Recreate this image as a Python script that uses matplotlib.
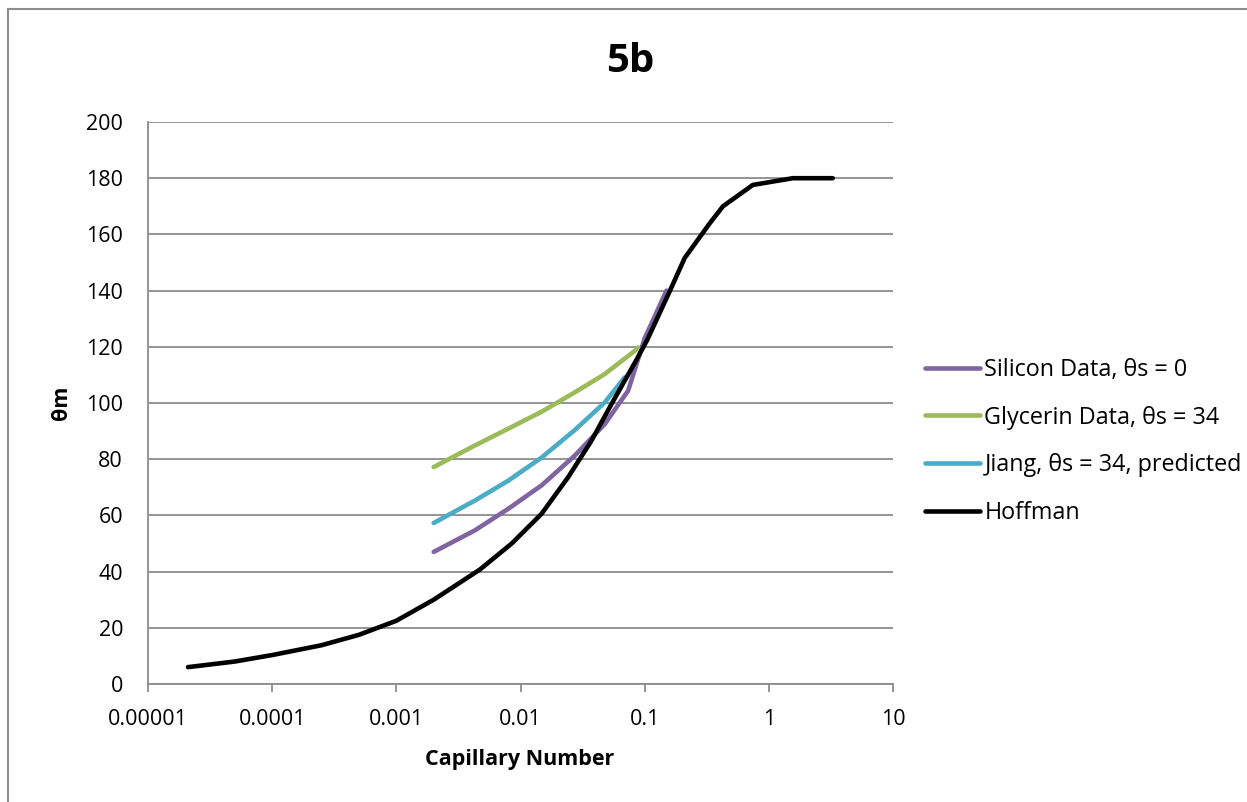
import matplotlib.pyplot as plt
from matplotlib.lines import Line2D

# series
silicon_x = [0.002, 0.0043, 0.008, 0.0148, 0.0274, 0.0477, 0.0736, 0.1, 0.15]
silicon_y = [47.0, 54.7, 62.4, 70.7, 81.3, 92.5, 104.4, 123, 140]

glycerin_x = [0.002, 0.0043, 0.008, 0.0148, 0.0274, 0.0477, 0.0834, 0.0885]
glycerin_y = [77.2, 84.9, 90.9, 96.9, 103.8, 110.3, 118.6, 119.8]

jiang_x = [0.002, 0.0043, 0.008, 0.0148, 0.0274, 0.0477, 0.069]
jiang_y = [57.3, 65.3, 72.4, 80.6, 90.4, 100.2, 109.1]

hoffman_x = [2.1e-5, 5e-5, 1e-4, 2.5e-4, 5e-4, 1e-3, 2e-3, 4.7e-3, 8.5e-3, 1.48e-2,
             2.42e-2, 3.73e-2, 5.4e-2, 0.085, 0.105, 0.16, 0.21, 0.335, 0.427,
             0.743, 1.56, 3.27]
hoffman_y = [6, 8, 10.3, 13.8, 17.5, 22.5, 30, 40.7, 50, 60.6,
             73.6, 86.6, 99.6, 115, 122.5, 140, 151.6, 164, 170,
             177.6, 180, 180]

x_ticks = [1e-5, 1e-4, 1e-3, 1e-2, 1e-1, 1, 10]
x_tick_labels = ["0.00001", "0.0001", "0.001", "0.01", "0.1", "1", "10"]
y_ticks = list(range(0, 201, 20))

plt.rcParams['font.family'] = ['Open Sans', 'DejaVu Sans']

W, H = 1247, 802
fig = plt.figure(figsize=(W / 100, H / 100), dpi=100)
ax = fig.add_axes([148 / W, 1 - 684 / H, (893 - 148) / W, (684 - 122) / H])

lw = 3.3
ax.plot(silicon_x, silicon_y, color="#8064A2", lw=lw, solid_capstyle="round", label="Silicon Data, θs = 0")
ax.plot(glycerin_x, glycerin_y, color="#9BBB59", lw=lw, solid_capstyle="round", label="Glycerin Data, θs = 34")
ax.plot(jiang_x, jiang_y, color="#4BACC6", lw=lw, solid_capstyle="round", label="Jiang, θs = 34, predicted")
ax.plot(hoffman_x, hoffman_y, color="black", lw=lw, solid_capstyle="round", label="Hoffman")

ax.set_xscale("log")
ax.set_xlim(1e-5, 10)
ax.set_ylim(0, 200)
ax.set_xticks(x_ticks)
ax.set_xticklabels(x_tick_labels)
ax.minorticks_off()
ax.set_yticks(y_ticks)

ax.grid(axis="y", color="#8c8c8c", lw=1.3)
ax.set_axisbelow(True)
for s in ["top", "right"]:
    ax.spines[s].set_visible(False)
for s in ["left", "bottom"]:
    ax.spines[s].set_color("#8c8c8c")
    ax.spines[s].set_linewidth(1.3)
ax.tick_params(axis="both", colors="#8c8c8c", labelcolor="black", labelsize=15.5, width=1.3)
ax.tick_params(axis="x", length=6, pad=12)
ax.tick_params(axis="y", length=0, pad=18)

ax.set_xlabel("Capillary Number", fontsize=15.5, fontweight="bold", va="center")
ax.xaxis.set_label_coords((520 - 148) / 745, (684 - 760) / 562)
ax.set_ylabel("θm", fontsize=15.5, fontweight="bold", va="center")
ax.yaxis.set_label_coords((62 - 148) / 745, 0.5)
fig.text(630 / W, 1 - 62 / H, "5b", fontsize=29, fontweight="bold", ha="center", va="center")

ax.legend(loc="center left", bbox_to_anchor=(1 + (925 - 893) / 745, (684 - 441.5) / 562),
          frameon=False, fontsize=16.8, borderpad=0, borderaxespad=0,
          handlelength=2.35, handletextpad=0.2, labelspacing=1.02)

# chart-area border
fig.add_artist(Line2D([8 / W, 8 / W], [0, 1 - 9 / H], transform=fig.transFigure, color="#8c8c8c", lw=1.5))
fig.add_artist(Line2D([8 / W, 1], [1 - 9 / H, 1 - 9 / H], transform=fig.transFigure, color="#8c8c8c", lw=1.5))

fig.savefig("out.png", dpi=100)
